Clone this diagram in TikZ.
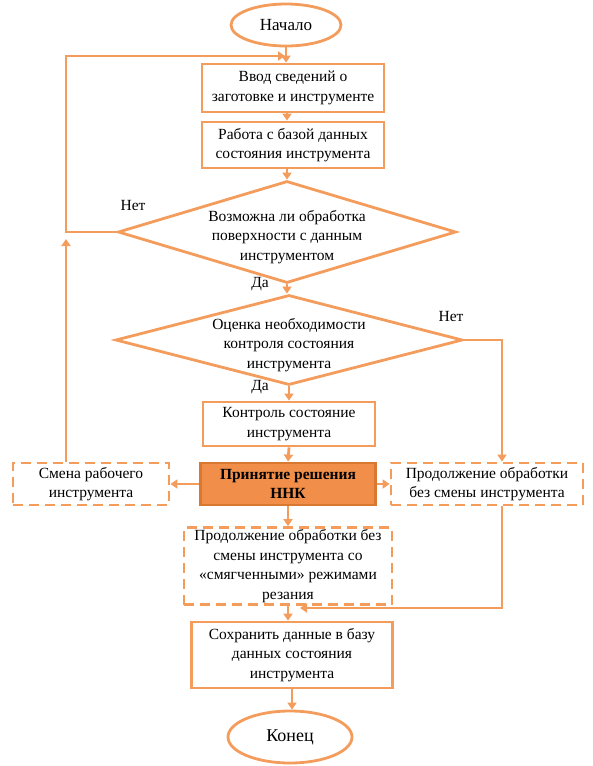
\documentclass[tikz,border=0pt]{standalone}
\usepackage{fontspec}
\setmainfont{Liberation Serif}
\usepackage{tikz}
\usetikzlibrary{shapes.geometric,arrows.meta,calc}
\definecolor{lineor}{HTML}{F39C5C}
\definecolor{fillor}{HTML}{F08E4A}
\definecolor{drawor}{HTML}{D9782F}

\begin{document}
\begin{tikzpicture}[x=1pt,y=-1pt]%%flowchart

                \tikzstyle{every node} = [font=\fontsize{15.5}{19.5}\selectfont, align=center]
                \tikzstyle{block}    = [rectangle, draw=lineor, line width=2.8pt, inner sep=0pt]
                \tikzstyle{dblock}   = [block, dash pattern=on 10pt off 6pt]
                \tikzstyle{term}     = [ellipse, draw=lineor, line width=2.8pt, inner sep=0pt]
                \tikzstyle{decision} = [diamond, draw=lineor, line width=2.8pt, inner sep=0pt]
                \tikzstyle{line}     = [draw=lineor, line width=2.8pt]
                \tikzstyle{arrow}    = [line, -{Triangle[length=7pt,width=9pt]}]
                \useasboundingbox (0,0) rectangle (592,766);

                \node [term, minimum width=110pt, minimum height=42pt, font=\fontsize{17}{19}\selectfont](start) at (286,25) {Начало};
                \node [block, minimum width=182pt, minimum height=48pt](input) at (293,88) {Ввод сведений о\\заготовке и инструменте};
                \node [block, minimum width=182pt, minimum height=46pt](dbwork) at (293,145) {Работа с базой данных\\состояния инструмента};
                \node [decision, minimum width=338pt, minimum height=102pt](dec1) at (287,232) {};
                \node (dec1t) at (287,237) {Возможна ли обработка\\поверхности с данным\\инструментом};
                \node [decision, minimum width=347pt, minimum height=90pt](dec2) at (289,340) {};
                \node (dec2t) at (289,345) {Оценка необходимости\\контроля состояния\\инструмента};
                \node (no1) at (133,205) {Нет};
                \node (yes1) at (260,284) {Да};
                \node (no2) at (451,316) {Нет};
                \node (yes2) at (260,387) {Да};
                \node [block, minimum width=172pt, minimum height=44pt](ctrl) at (289,424) {Контроль состояние\\инструмента};
                \node [block, draw=drawor, fill=fillor, minimum width=175pt, minimum height=42pt, font=\fontsize{15.5}{19.5}\selectfont\bfseries](nnk) at (288,484) {Принятие решения\\ННК};
                \node [dblock, minimum width=156pt, minimum height=42pt](change) at (91,484) {Смена рабочего\\инструмента};
                \node [dblock, minimum width=192pt, minimum height=42pt](cont) at (487,484) {Продолжение обработки\\без смены инструмента};
                \node [dblock, minimum width=208pt, minimum height=77pt](soft) at (288,566) {Продолжение обработки без\\смены инструмента со\\«смягченными» режимами\\резания};
                \node [block, minimum width=201pt, minimum height=66pt](save) at (292,655) {Сохранить данные в базу\\данных состояния\\инструмента};
                \node [term, minimum width=124pt, minimum height=52pt, font=\fontsize{18}{19}\selectfont](finish) at (290,737) {Конец};

                \coordinate (loopL) at (66,232);
                \coordinate (loopT) at (66,56);
                \coordinate (loopE) at (285,56);
                \coordinate (loopA) at (66,239);
                \coordinate (rtop) at (502,340);
                \coordinate (rbot) at (502,608);
                \coordinate (rend) at (300,608);

                \draw [arrow] (start.south) -- (start.south |- input.north);
                \draw [arrow] (dec1 |- input.south) -- (dec1 |- dbwork.north);
                \draw [arrow] (dec1 |- dbwork.south) -- (dec1.north);
                \draw [arrow] (dec1.south) -- (dec1.south |- dec2.north);
                \draw [arrow] (dec2.south) -- (dec2.south |- ctrl.north);
                \draw [arrow] (ctrl.south) -- (nnk.north);
                \draw [arrow] (nnk.west) -- (change.east);
                \draw [arrow] (nnk.east) -- (cont.west);
                \draw [arrow] (nnk.south) -- (soft.north);
                \draw [arrow] (soft.south) -- (soft.south |- save.north);
                \draw [arrow] (save.south) -- (save.south |- finish.north);
                \draw [arrow] (dec1.west) -- (loopL) -- (loopT) -- (loopE);
                \draw [arrow] (change.north -| loopL) -- (loopA);
                \draw [arrow] (dec2.east) -- (rtop) -- (rtop |- cont.north);
                \draw [arrow] (cont.south -| rbot) -- (rbot) -- (rend);
\end{tikzpicture}
\end{document}
